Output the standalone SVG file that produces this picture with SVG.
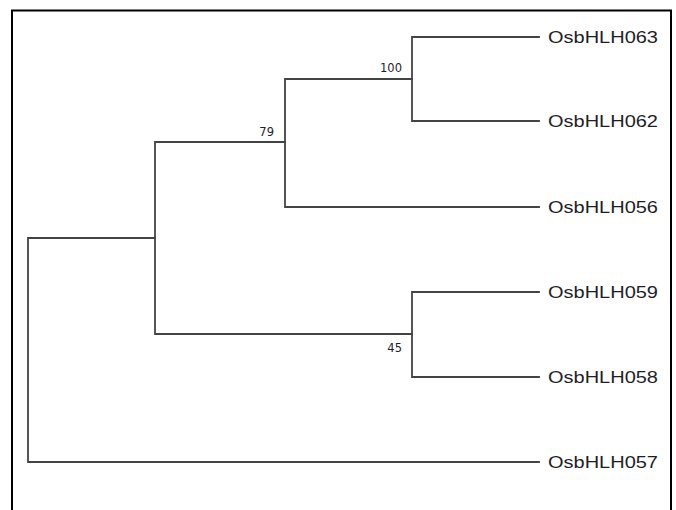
<svg xmlns="http://www.w3.org/2000/svg" width="676" height="510" viewBox="0 0 676 510">
<style>
.frame{fill:none;stroke:#000;stroke-width:2}
.br{fill:none;stroke:#444;stroke-width:1.8;stroke-linecap:square}
.leaf{font-family:"Liberation Sans",Arial,sans-serif;font-size:17px;fill:#1e1e28}
.bs{font-family:"DejaVu Sans",Verdana,sans-serif;font-size:11.5px;fill:#1e1e28;text-anchor:end}
</style>
<rect width="676" height="510" fill="#fff"/>
<path class="frame" d="M12,512 V10.5 H671 V512"/>
<g id="connectors">
<path class="br" d="M28,238 V462 M28,238 H155 M28,462 H539"/>
<path class="br" d="M155,142 V334 M155,142 H285 M155,334 H412"/>
<path class="br" d="M285,79 V207 M285,79 H412 M285,207 H539"/>
<path class="br" d="M412,37 V121 M412,37 H539 M412,121 H539"/>
<path class="br" d="M412,292 V377 M412,292 H539 M412,377 H539"/>
</g>
<g id="n063"><text class="leaf" x="548" y="43" textLength="110" lengthAdjust="spacingAndGlyphs">OsbHLH063</text></g>
<g id="n062"><text class="leaf" x="548" y="127" textLength="110" lengthAdjust="spacingAndGlyphs">OsbHLH062</text></g>
<g id="n056"><text class="leaf" x="548" y="213" textLength="110" lengthAdjust="spacingAndGlyphs">OsbHLH056</text></g>
<g id="n059"><text class="leaf" x="548" y="298" textLength="110" lengthAdjust="spacingAndGlyphs">OsbHLH059</text></g>
<g id="n058"><text class="leaf" x="548" y="383" textLength="110" lengthAdjust="spacingAndGlyphs">OsbHLH058</text></g>
<g id="n057"><text class="leaf" x="548" y="468" textLength="110" lengthAdjust="spacingAndGlyphs">OsbHLH057</text></g>
<g id="b100"><text class="bs" x="402" y="72">100</text></g>
<g id="b79"><text class="bs" x="274" y="135.5">79</text></g>
<g id="b45"><text class="bs" x="402" y="352">45</text></g>
</svg>
